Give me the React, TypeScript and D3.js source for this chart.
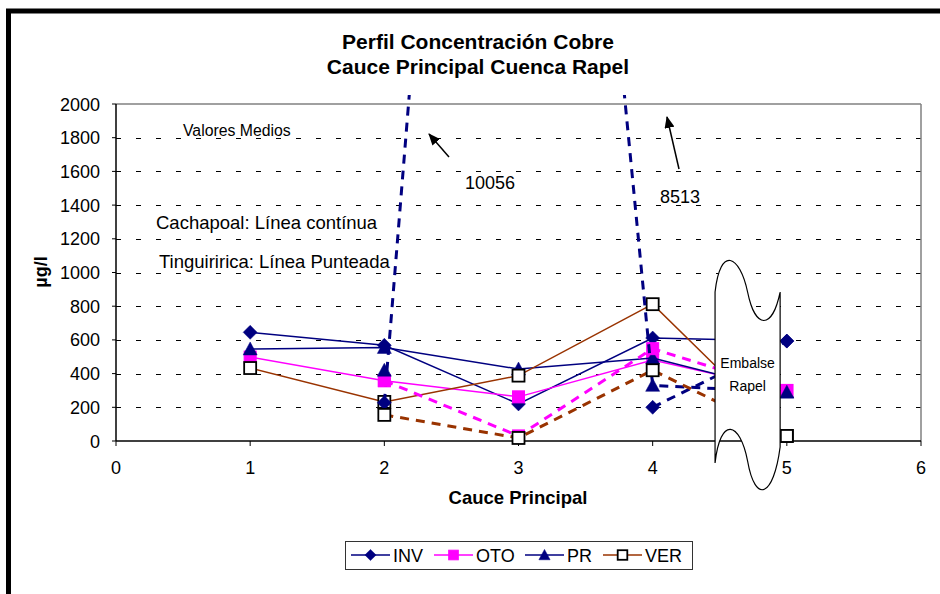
import React from 'react';
import * as d3 from 'd3';

// ---------- data ----------
const X_VALUES = [1, 2, 3, 4, 5];
const X_TICKS = [0, 1, 2, 3, 4, 5, 6];
const Y_TICKS = [0, 200, 400, 600, 800, 1000, 1200, 1400, 1600, 1800, 2000];
const SEASONS = ['INV', 'OTO', 'PR', 'VER'];

// Cachapoal (solid lines)
const INV_CACHAPOAL = [645, 568, 220, 611, 593];
const OTO_CACHAPOAL = [498, 358, 262, 480, 300];
const PR_CACHAPOAL = [546, 555, 427, 493, 290];
const VER_CACHAPOAL = [433, 232, 388, 812, 30];

// Tinguiririca (dashed lines)
const INV_TINGUIRIRICA = [null, 227, 10056, 200, 593];
const OTO_TINGUIRIRICA = [null, 358, 30, 548, 300];
const PR_TINGUIRIRICA = [null, 420, 8513, 330, 290];
const VER_TINGUIRIRICA = [null, 155, 18, 420, 30];
// x values after which the dashed line is interrupted
const INV_TINGUIRIRICA_BREAKS = [3];
const PR_TINGUIRIRICA_BREAKS = [2];

const PEAK_LABELS = ['10056', '8513'];

// ---------- styles ----------
const NAVY = '#000080';
const MAGENTA = '#FF00FF';
const BROWN = '#993300';
const FONT = '"Liberation Sans", Arial, Helvetica, sans-serif';

type Pt = { x: number; v: number | null };

function buildPoints(values: (number | null)[], breaks: number[]): Pt[] {
  const pts: Pt[] = [];
  X_VALUES.forEach((xv, i) => {
    pts.push({ x: xv, v: values[i] });
    if (breaks.includes(xv)) pts.push({ x: xv, v: null });
  });
  return pts;
}

function Marker({ type, cx, cy, s = 1 }: { type: string; cx: number; cy: number; s?: number }) {
  if (type === 'diamond') {
    const r = 7 * s;
    return <path d={`M${cx},${cy - r}L${cx + r},${cy}L${cx},${cy + r}L${cx - r},${cy}Z`} fill={NAVY} stroke={NAVY} strokeWidth={0.5} />;
  }
  if (type === 'square') {
    const h = 6 * s;
    return <rect x={cx - h} y={cy - h} width={2 * h} height={2 * h} fill={MAGENTA} stroke={MAGENTA} strokeWidth={1} />;
  }
  if (type === 'triangle') {
    const r = 7 * s;
    return <path d={`M${cx},${cy - r}L${cx + r},${cy + r * 0.85}L${cx - r},${cy + r * 0.85}Z`} fill={NAVY} stroke={NAVY} strokeWidth={0.5} />;
  }
  const h = 6 * s;
  return <rect x={cx - h} y={cy - h} width={2 * h} height={2 * h} fill="#ffffff" stroke="#000000" strokeWidth={1.8} />;
}

export default function App() {
  const left = 116, right = 921, top = 104, bottom = 441;
  const x = d3.scaleLinear().domain([0, 6]).range([left, right]);
  const y = d3.scaleLinear().domain([0, 2000]).range([bottom, top]);

  const styles: Record<string, { color: string; marker: string }> = {
    INV: { color: NAVY, marker: 'diamond' },
    OTO: { color: MAGENTA, marker: 'square' },
    PR: { color: NAVY, marker: 'triangle' },
    VER: { color: BROWN, marker: 'open' },
  };

  const series = [
    { key: 'INV', values: INV_CACHAPOAL, breaks: [] as number[], dashed: false },
    { key: 'OTO', values: OTO_CACHAPOAL, breaks: [] as number[], dashed: false },
    { key: 'PR', values: PR_CACHAPOAL, breaks: [] as number[], dashed: false },
    { key: 'VER', values: VER_CACHAPOAL, breaks: [] as number[], dashed: false },
    { key: 'INV', values: INV_TINGUIRIRICA, breaks: INV_TINGUIRIRICA_BREAKS, dashed: true },
    { key: 'OTO', values: OTO_TINGUIRIRICA, breaks: [] as number[], dashed: true },
    { key: 'PR', values: PR_TINGUIRIRICA, breaks: PR_TINGUIRIRICA_BREAKS, dashed: true },
    { key: 'VER', values: VER_TINGUIRIRICA, breaks: [] as number[], dashed: true },
  ];

  const line = d3
    .line<Pt>()
    .defined((d) => d.v != null)
    .x((d) => x(d.x))
    .y((d) => y(d.v as number));

  // break shape ("Embalse Rapel")
  const bl = x(4.465), br = x(4.95);
  const tY = 292, bY = 463;
  const wave = (x0: number, x1: number, yy: number) => {
    const w = x1 - x0;
    return `C${x0 + w * 0.08},${yy - 47} ${x0 + w * 0.38},${yy - 37} ${x0 + w * 0.5},${yy} C${x0 + w * 0.62},${yy + 38} ${x0 + w * 0.88},${yy + 38} ${x1},${yy}`;
  };
  const w = br - bl;
  const breakPath =
    `M${bl},${tY} ${wave(bl, br, tY)} L${br},${bY - 16} ` +
    `C${br - w * 0.1},${bY + 34} ${br - w * 0.38},${bY + 42} ${bl + w * 0.5},${bY - 2} ` +
    `C${bl + w * 0.38},${bY - 42} ${bl + w * 0.08},${bY - 47} ${bl},${bY} Z`;

  const legendX = [351, 434, 525, 603];

  return (
    <div style={{ position: 'absolute', left: 0, top: 0 }}>
      <svg width={940} height={594} style={{ display: 'block' }} fontFamily={FONT}>
        <defs>
          <clipPath id="plotclip">
            <rect x={left} y={95} width={right - left} height={bottom - 95} />
          </clipPath>
          <marker id="arrow" viewBox="0 0 12 10" refX="11" refY="5" markerWidth="12" markerHeight="10" markerUnits="userSpaceOnUse" orient="auto">
            <path d="M0,0L12,5L0,10Z" fill="#000" />
          </marker>
        </defs>
        <rect x={0} y={0} width={940} height={594} fill="#ffffff" />
        {/* outer frame */}
        <rect x={8.5} y={11} width={1200} height={900} fill="none" stroke="#000" strokeWidth={5} />

        {/* title */}
        <text x={478} y={49} textAnchor="middle" fontWeight="bold" fontSize={21}>Perfil Concentración Cobre</text>
        <text x={478} y={74} textAnchor="middle" fontWeight="bold" fontSize={21}>Cauce Principal Cuenca Rapel</text>

        {/* gridlines */}
        {Y_TICKS.filter((t) => t > 0 && t < 2000).map((t) => (
          <line key={t} x1={left} x2={right} y1={Math.round(y(t)) + 0.5} y2={Math.round(y(t)) + 0.5} stroke="#000" strokeWidth={1} strokeDasharray="5,15" />
        ))}
        {/* plot border */}
        <line x1={left} x2={right} y1={top} y2={top} stroke="#808080" strokeWidth={1.5} />
        <line x1={right} x2={right} y1={top} y2={bottom} stroke="#808080" strokeWidth={1.5} />
        {/* axes */}
        <line x1={left} x2={left} y1={top} y2={bottom} stroke="#000" strokeWidth={1.5} />
        <line x1={left} x2={right} y1={bottom} y2={bottom} stroke="#000" strokeWidth={1.5} />
        {X_TICKS.map((t) => (
          <g key={t}>
            <line x1={x(t)} x2={x(t)} y1={bottom} y2={bottom + 5} stroke="#000" strokeWidth={1} />
            <text x={x(t)} y={474} textAnchor="middle" fontSize={18}>{t}</text>
          </g>
        ))}
        {Y_TICKS.map((t) => (
          <g key={t}>
            <line x1={left - 4} x2={left} y1={y(t)} y2={y(t)} stroke="#000" strokeWidth={1} />
            <text x={100} y={y(t) + 6.5} textAnchor="end" fontSize={18}>{t}</text>
          </g>
        ))}
        <text x={518} y={504} textAnchor="middle" fontWeight="bold" fontSize={18.5}>Cauce Principal</text>
        <text transform="translate(47,272) rotate(-90)" textAnchor="middle" fontWeight="bold" fontSize={18}>µg/l</text>

        {/* series */}
        {series.map((s, si) => {
          const st = styles[s.key];
          const pts = buildPoints(s.values, s.breaks);
          return (
            <g key={si}>
              <path
                d={line(pts) || ''}
                fill="none"
                stroke={st.color}
                strokeWidth={s.dashed ? 3 : 1.5}
                strokeDasharray={s.dashed ? '9,7' : undefined}
                clipPath="url(#plotclip)"
              />
              {X_VALUES.map((xv, i) => {
                const v = s.values[i];
                if (v == null || v > 2000) return null;
                return <Marker key={i} type={st.marker} cx={x(xv)} cy={y(v)} />;
              })}
            </g>
          );
        })}

        {/* reservoir break */}
        <path d={breakPath} fill="#ffffff" stroke="#000" strokeWidth={1.2} />
        <text x={(bl + br) / 2} y={368} textAnchor="middle" fontSize={14}>Embalse</text>
        <text x={(bl + br) / 2} y={391} textAnchor="middle" fontSize={14}>Rapel</text>

        {/* annotations */}
        <text x={183} y={136} fontSize={15.8}>Valores Medios</text>
        <text x={156} y={229} fontSize={18.5}>Cachapoal: Línea contínua</text>
        <text x={159} y={268} fontSize={18.5}>Tinguiririca: Línea Punteada</text>
        <text x={465} y={189} fontSize={18}>{PEAK_LABELS[0]}</text>
        <text x={660} y={203} fontSize={18}>{PEAK_LABELS[1]}</text>
        <line x1={449} y1={157} x2={429} y2={134} stroke="#000" strokeWidth={1.5} markerEnd="url(#arrow)" />
        <line x1={679} y1={169} x2={667} y2={117} stroke="#000" strokeWidth={1.5} markerEnd="url(#arrow)" />

        {/* legend */}
        <rect x={345.5} y={541.5} width={347} height={28} fill="#ffffff" stroke="#333" strokeWidth={1} />
        {SEASONS.map((k, i) => {
          const lx = legendX[i];
          const st = styles[k];
          return (
            <g key={k}>
              <line x1={lx} x2={lx + 39} y1={555} y2={555} stroke={st.color} strokeWidth={1.5} />
              <Marker type={st.marker} cx={lx + 19.5} cy={555} s={0.8} />
              <text x={lx + 42} y={561.5} fontSize={18}>{k}</text>
            </g>
          );
        })}
      </svg>
    </div>
  );
}
